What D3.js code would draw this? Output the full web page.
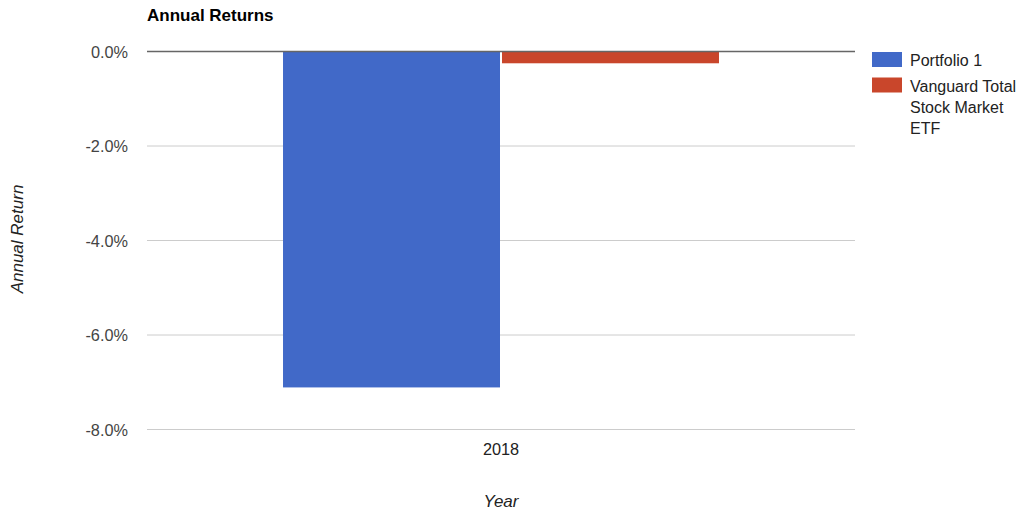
<!DOCTYPE html>
<html><head><meta charset="utf-8">
<script src="https://cdn.jsdelivr.net/npm/d3@7"></script>
<style>body{margin:0;background:#fff;} svg{display:block;font-family:"Liberation Sans",Arial,sans-serif;}</style>
</head><body>
<svg id="c" width="1024" height="519"></svg>
<script>
const categories = ["2018"];
const seriesNames = ["Portfolio 1", "Vanguard Total Stock Market ETF"];
const portfolio1 = [-7.12];
const vanguard = [-0.26];
const yTicks = [0, -2, -4, -6, -8];
const colors = ["#4169c8", "#c9462b"];

const svg = d3.select("#c");
const L = 147, R = 855, T = 51, B = 429;
const y = d3.scaleLinear().domain([0, -8]).range([T, B]);
const x0 = d3.scaleBand().domain(categories).range([L, R]).paddingInner(0).paddingOuter(0.312);
const x1 = d3.scaleBand().domain(seriesNames).range([0, x0.bandwidth()]);

// gridlines
svg.append("g").selectAll("line").data(yTicks.filter(d => d !== 0)).join("line")
  .attr("x1", L).attr("x2", R).attr("y1", d => y(d) + 0.5).attr("y2", d => y(d) + 0.5)
  .attr("stroke", "#cccccc").attr("stroke-width", 1);

// tick labels
svg.append("g").selectAll("text").data(yTicks).join("text")
  .attr("x", 128).attr("y", d => y(d) + 6.5).attr("text-anchor", "end")
  .attr("font-size", 16.3).attr("fill", "#444")
  .text(d => (d < 0 ? "-" : "") + Math.abs(d).toFixed(1) + "%");

// bars
const data = categories.map((c, i) => ({c, vals: [portfolio1[i], vanguard[i]]}));
const g = svg.append("g").selectAll("g").data(data).join("g")
  .attr("transform", d => `translate(${x0(d.c)},0)`);
g.selectAll("rect").data(d => d.vals.map((v, j) => ({v, name: seriesNames[j], j}))).join("rect")
  .attr("x", d => x1(d.name) + (d.j === 1 ? 1 : 0))
  .attr("width", d => x1.bandwidth() - 1)
  .attr("y", d => y(Math.max(0, d.v)))
  .attr("height", d => Math.abs(y(d.v) - y(0)))
  .attr("fill", d => colors[d.j]);

// zero line
svg.append("line").attr("x1", L).attr("x2", R).attr("y1", y(0) + 0.5).attr("y2", y(0) + 0.5)
  .attr("stroke", "#666").attr("stroke-width", 1.5);

// x labels
svg.append("g").selectAll("text").data(categories).join("text")
  .attr("x", d => x0(d) + x0.bandwidth() / 2).attr("y", 455).attr("text-anchor", "middle")
  .attr("font-size", 16.3).attr("fill", "#222").text(d => d);

// title
svg.append("text").attr("x", 147).attr("y", 21).attr("font-size", 17).attr("font-weight", "bold")
  .attr("fill", "#000").text("Annual Returns");

// axis titles
svg.append("text").attr("x", (L + R) / 2).attr("y", 507).attr("text-anchor", "middle")
  .attr("font-size", 17).attr("font-style", "italic").attr("fill", "#222").text("Year");
svg.append("text").attr("transform", "translate(23,239) rotate(-90)").attr("text-anchor", "middle")
  .attr("font-size", 17).attr("font-style", "italic").attr("fill", "#222").text("Annual Return");

// legend
const legendLines = [["Portfolio 1"], ["Vanguard Total", "Stock Market", "ETF"]];
const lg = svg.append("g").selectAll("g").data(legendLines).join("g")
  .attr("transform", (d, i) => `translate(872,${52 + i * 25.5})`);
lg.append("rect").attr("width", 30).attr("height", 15).attr("fill", (d, i) => colors[i]);
lg.append("text").attr("font-size", 16).attr("fill", "#222")
  .selectAll("tspan").data(d => d).join("tspan")
  .attr("x", 38).attr("y", (d, i) => 14 + i * 21).text(d => d);
</script>
</body></html>
